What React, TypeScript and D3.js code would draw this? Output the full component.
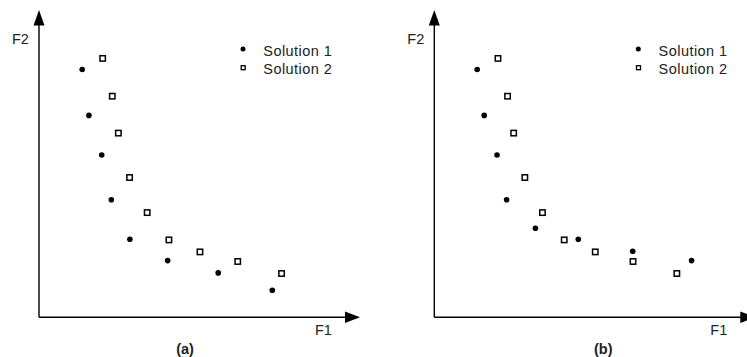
import React from "react";
import * as d3 from "d3";

// Objective-space values (F1, F2), 0–100 units
const sol1A_F1 = [13.5, 15.6, 19.6, 22.6, 28.4, 40.2, 56.0, 72.9];
const sol1A_F2 = [82.6, 67.3, 54.1, 39.2, 26.0, 18.9, 14.8, 9.0];
const sol2A_F1 = [19.9, 22.9, 24.8, 28.3, 33.8, 40.6, 50.3, 62.1, 75.8];
const sol2A_F2 = [86.3, 73.7, 61.4, 46.6, 34.9, 25.8, 21.8, 18.6, 14.6];

const sol1B_F1 = [13.4, 15.6, 19.6, 22.6, 31.6, 45.0, 62.0, 80.4];
const sol1B_F2 = [82.6, 67.3, 54.1, 39.2, 29.7, 26.0, 22.0, 18.9];
const sol2B_F1 = [19.9, 22.9, 24.8, 28.3, 33.8, 40.6, 50.3, 62.1, 75.8];
const sol2B_F2 = [86.3, 73.7, 61.4, 46.6, 34.9, 25.8, 21.8, 18.6, 14.6];

const legendLabels = ["Solution 1", "Solution 2"];
const panelLabels = ["(a)", "(b)"];
const axisLabels = ["F1", "F2"];

const FONT = "'Liberation Sans', Arial, Helvetica, sans-serif";

type PanelProps = {
  ox: number;
  s1x: number[];
  s1y: number[];
  s2x: number[];
  s2y: number[];
  label: string;
  labelX: number;
};

function Panel({ ox, s1x, s1y, s2x, s2y, label, labelX }: PanelProps) {
  const oy = 317.3;
  const x = d3.scaleLinear().domain([0, 100]).range([ox, ox + 320]);
  const y = d3.scaleLinear().domain([0, 100]).range([oy, oy - 300]);
  const sq = 5.4;
  return (
    <g>
      {/* axes */}
      <line x1={ox} y1={oy} x2={ox} y2={22} stroke="#000" strokeWidth={1.4} />
      <line x1={ox} y1={oy} x2={ox + 308} y2={oy} stroke="#000" strokeWidth={1.4} />
      <path d={`M${ox},10 L${ox - 5.5},25.5 L${ox + 5.5},25.5 Z`} fill="#000" />
      <path d={`M${ox + 321},${oy} L${ox + 306},${oy - 5.8} L${ox + 306},${oy + 5.8} Z`} fill="#000" />
      <text x={ox - 27} y={44.3} fontFamily={FONT} fontSize={14.5} fill="#222">
        {axisLabels[1]}
      </text>
      <text x={ox + 276} y={335} fontFamily={FONT} fontSize={14.5} fill="#222">
        {axisLabels[0]}
      </text>
      {/* series 1: filled dots */}
      {s1x.map((v, i) => (
        <circle key={"a" + i} cx={x(v)} cy={y(s1y[i])} r={2.8} fill="#000" />
      ))}
      {/* series 2: open squares */}
      {s2x.map((v, i) => (
        <rect
          key={"b" + i}
          x={x(v) - sq / 2}
          y={y(s2y[i]) - sq / 2}
          width={sq}
          height={sq}
          fill="#fff"
          stroke="#000"
          strokeWidth={1.5}
        />
      ))}
      {/* legend */}
      <circle cx={ox + 204} cy={49} r={2.5} fill="#000" />
      <rect x={ox + 202.2} y={65.7} width={4} height={4} fill="#fff" stroke="#000" strokeWidth={1.3} />
      <text x={ox + 224.3} y={55.7} fontFamily={FONT} fontSize={14.5} letterSpacing={0.45} fill="#222">
        {legendLabels[0]}
      </text>
      <text x={ox + 224.3} y={74.2} fontFamily={FONT} fontSize={14.5} letterSpacing={0.45} fill="#222">
        {legendLabels[1]}
      </text>
      <text x={labelX} y={353.5} fontFamily={FONT} fontSize={14.5} fontWeight="bold" textAnchor="middle" fill="#222">
        {label}
      </text>
    </g>
  );
}

export default function App() {
  return (
    <svg
      width={747}
      height={357}
      style={{ position: "absolute", left: 0, top: 0, background: "#fff" }}
    >
      <rect width={747} height={357} fill="#fff" />
      <Panel ox={39} s1x={sol1A_F1} s1y={sol1A_F2} s2x={sol2A_F1} s2y={sol2A_F2} label={panelLabels[0]} labelX={185} />
      <Panel ox={434.3} s1x={sol1B_F1} s1y={sol1B_F2} s2x={sol2B_F1} s2y={sol2B_F2} label={panelLabels[1]} labelX={603.3} />
    </svg>
  );
}
